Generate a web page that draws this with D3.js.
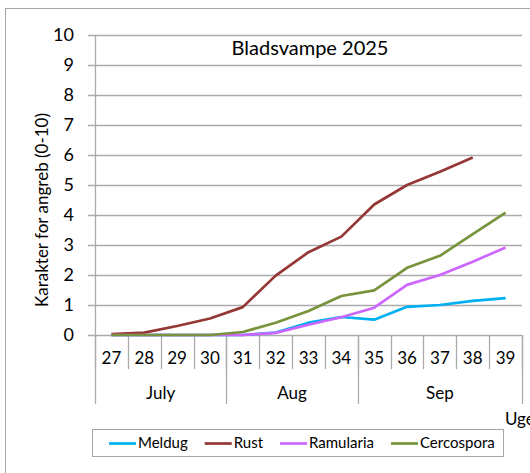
<!DOCTYPE html>
<html>
<head>
<meta charset="utf-8">
<script src="https://cdn.jsdelivr.net/npm/d3@7"></script>
<style>
  body { margin: 0; background: #fff; }
  svg text { font-family: Lato, "Open Sans", sans-serif; fill: #000; }
</style>
</head>
<body>
<script>
// chart data
var weeks = ["27", "28", "29", "30", "31", "32", "33", "34", "35", "36", "37", "38", "39"];
var monthNames = ["July", "Aug", "Sep"];
var monthFirst = ["27", "31", "35"];
var monthLast = ["30", "34", "39"];
var yTicks = [0, 1, 2, 3, 4, 5, 6, 7, 8, 9, 10];

var seriesNames = ["Meldug", "Rust", "Ramularia", "Cercospora"];
var meldug = [0, 0, 0, 0, 0, 0.08, 0.41, 0.6, 0.51, 0.94, 1.0, 1.14, 1.23];
var rust = [0.03, 0.08, 0.3, 0.55, 0.93, 1.98, 2.76, 3.28, 4.35, 5.0, 5.44, 5.92, null];
var ramularia = [0, 0, 0, 0, 0, 0.07, 0.34, 0.59, 0.91, 1.67, 2.0, 2.44, 2.92];
var cercospora = [0, 0, 0, 0, 0.1, 0.41, 0.8, 1.3, 1.49, 2.24, 2.64, 3.36, 4.08];
var colors = ["#00b0f0", "#953735", "#cc66ff", "#77933c"];

var width = 530, height = 473;
// plot area (note: "top" is a reserved window prop, so use other names)
var plotL = 95, plotR = 522, plotT = 35, plotB = 335;

var svg = d3.select("body").append("svg")
  .attr("width", width)
  .attr("height", height);

// outer chart border (runs off the right and bottom)
svg.append("rect")
  .attr("x", 5.5).attr("y", 8.5)
  .attr("width", 700).attr("height", 700)
  .attr("fill", "none")
  .attr("stroke", "#a6a6a6");

var x = d3.scaleBand().domain(weeks).range([plotL, plotR]);
var y = d3.scaleLinear().domain([0, 10]).range([plotB, plotT]);
var bw = x.bandwidth();

// horizontal gridlines + left tick stubs
svg.append("g").selectAll("line")
  .data(yTicks)
  .enter().append("line")
  .attr("x1", plotL - 7).attr("x2", plotR)
  .attr("y1", function(d){ return Math.round(y(d)) + 0.5; })
  .attr("y2", function(d){ return Math.round(y(d)) + 0.5; })
  .attr("stroke", "#ababab")
  .attr("stroke-width", 1.3);

svg.append("g").selectAll("text")
  .data(yTicks)
  .enter().append("text")
  .attr("x", 74)
  .attr("y", function(d){ return y(d); })
  .attr("dy", "0.36em")
  .attr("text-anchor", "end")
  .style("font-size", "18px")
  .text(function(d){ return d; });

// y axis line
svg.append("line")
  .attr("x1", plotL + 0.5).attr("x2", plotL + 0.5)
  .attr("y1", plotT).attr("y2", plotB)
  .attr("stroke", "#ababab").attr("stroke-width", 1.3);

// category ticks under the axis
var tickX = weeks.map(function(w){ return x(w); }).concat([plotR]);
svg.append("g").selectAll("line")
  .data(tickX)
  .enter().append("line")
  .attr("x1", function(d){ return Math.round(d) + 0.5; })
  .attr("x2", function(d){ return Math.round(d) + 0.5; })
  .attr("y1", plotB).attr("y2", 369)
  .attr("stroke", "#ababab").attr("stroke-width", 1.3);

// month group separators
var sepX = monthFirst.map(function(w){ return x(w); }).concat([plotR]);
svg.append("g").selectAll("line")
  .data(sepX)
  .enter().append("line")
  .attr("x1", function(d){ return Math.round(d) + 0.5; })
  .attr("x2", function(d){ return Math.round(d) + 0.5; })
  .attr("y1", plotB).attr("y2", 404)
  .attr("stroke", "#ababab").attr("stroke-width", 1.3);

svg.append("g").selectAll("text")
  .data(weeks)
  .enter().append("text")
  .attr("x", function(d){ return x(d) + bw / 2; })
  .attr("y", 364)
  .attr("text-anchor", "middle")
  .style("font-size", "17px")
  .text(function(d){ return d; });

svg.append("g").selectAll("text")
  .data(monthNames)
  .enter().append("text")
  .attr("x", function(d, i){ return (x(monthFirst[i]) + x(monthLast[i]) + bw) / 2; })
  .attr("y", 399)
  .attr("text-anchor", "middle")
  .style("font-size", "17px")
  .text(function(d){ return d; });

svg.append("text")
  .attr("x", 505).attr("y", 425)
  .style("font-size", "17px")
  .text("Uge");

// title
svg.append("text")
  .attr("x", 310).attr("y", 55)
  .attr("text-anchor", "middle")
  .style("font-size", "20px")
  .text("Bladsvampe 2025");

// y axis title
svg.append("text")
  .attr("transform", "translate(48,210) rotate(-90)")
  .attr("text-anchor", "middle")
  .style("font-size", "17px")
  .text("Karakter for angreb (0-10)");

// lines
var allSeries = [meldug, rust, ramularia, cercospora];
var line = d3.line()
  .defined(function(d){ return d != null; })
  .x(function(d, i){ return x(weeks[i]) + bw / 2; })
  .y(function(d){ return y(d); });

svg.append("g").selectAll("path")
  .data(allSeries)
  .enter().append("path")
  .attr("d", line)
  .attr("fill", "none")
  .attr("stroke", function(d, i){ return colors[i]; })
  .attr("stroke-width", 2.7)
  .attr("stroke-linejoin", "round");

// legend
var lg = svg.append("g");
lg.append("rect")
  .attr("x", 92.5).attr("y", 429.5)
  .attr("width", 411).attr("height", 27)
  .attr("fill", "#fff")
  .attr("stroke", "#a6a6a6");

var lx = 109;
seriesNames.forEach(function(name, i){
  lg.append("line")
    .attr("x1", lx).attr("x2", lx + 27)
    .attr("y1", 443.5).attr("y2", 443.5)
    .attr("stroke", colors[i])
    .attr("stroke-width", 2.7);
  var t = lg.append("text")
    .attr("x", lx + 29).attr("y", 443)
    .attr("dy", "0.36em")
    .style("font-size", "15px")
    .text(name);
  lx = lx + 29 + t.node().getComputedTextLength() + 17;
});
</script>
</body>
</html>
